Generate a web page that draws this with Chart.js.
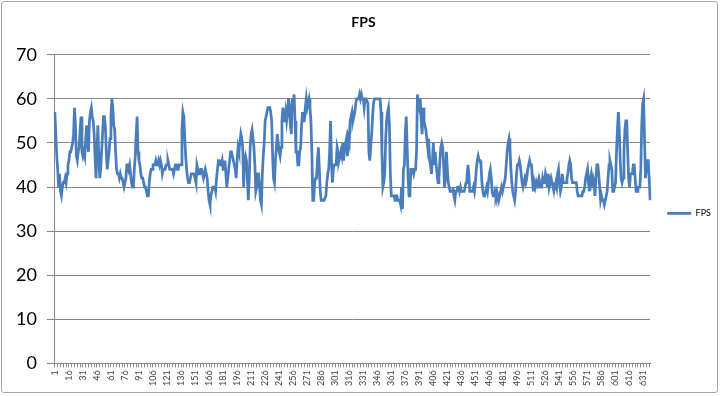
<!DOCTYPE html>
<html>
<head>
<meta charset="utf-8">
<script src="https://cdn.jsdelivr.net/npm/chart.js@4.4.0/dist/chart.umd.min.js"></script>
<style>
  html, body { margin: 0; padding: 0; background: #fff; }
  #wrap { position: relative; width: 720px; height: 396px; }
  #frame { position: absolute; left: 1px; top: 1px; width: 715px; height: 390px;
           border: 1px solid #a6a6a6; border-radius: 3px; pointer-events: none; }
</style>
</head>
<body>
<div id="wrap">
  <canvas id="fpsChart" width="720" height="396"></canvas>
  <div id="frame"></div>
</div>
<script>
// frames per second, one value per sample (1..638)
const fps = [
  57,52,47,44,40,43,39,38,40,41, 41,42,41,43,45,46,48,48,49,50,
  52,58,54,47,46,48,49,53,56,48, 47,48,47,51,54,50,48,55,57,58,
  56,55,52,47,42,48,54,47,42,44, 48,52,56,56,54,48,44,46,48,51,
  56,60,58,54,53,48,44,43,43,42, 43,42,42,41,40,40,42,45,45,44,
  45,43,41,40,40,44,47,52,56,48, 46,45,43,42,42,41,40,40,39,38,
  38,41,43,44,44,
  45,45,45,46,45,45,46,45,46,45, 43,44,44,44,45,45,46,45,44,44,
  44,44,43,44,45,45,44,44,45,45, 45,53,57,56,51,47,44,42,41,41,
  42,43,43,43,43,42,41,45,44,43, 43,44,44,43,42,43,44,43,42,39,
  37,36,38,39,40,40,40,39,42,44, 46,46,45,45,46,44,44,46,43,40,
  42,44,46,48,48,47,46,45,44,42, 46,49,48,50,52,51,49,40,46,47,
  46,42,37,42,49,52,53,
  53,49,45,39,40,43,43,40,37,36, 43,47,50,55,56,56,58,58,58,57,
  55,47,42,41,46,49,52,50,48,47, 49,55,58,55,55,57,55,57,60,58,
  54,52,60,58,61,55,48,48,45,45, 48,49,54,57,55,55,58,60,58,59,
  60,58,55,48,37,37,41,42,42,46, 49,44,39,37,37,37,37,37,38,41,
  43,44,48,55,46,41,44,45,45,45, 49,48,46,47,48,47,50,46,49,50,
  51,47,51,50,55,56,57,
  55,56,57,59,60,60,60,61,60,61, 60,60,58,60,60,60,59,48,46,49,
  52,56,59,60,60,60,60,60,60,60, 57,48,40,41,43,51,55,57,58,54,
  43,38,38,38,38,37,38,38,37,37, 37,36,40,35,44,45,52,56,49,42,
  38,39,44,44,44,43,44,44,48,61, 59,58,60,55,52,58,55,54,53,51,
  49,51,46,45,43,46,50,45,48,45, 43,41,42,46,49,50,49,45,40,42,
  48,44,41,40,39,39,
  39,40,38,37,39,39,40,40,39,40, 39,39,39,39,40,41,42,45,43,39,
  39,39,39,40,39,41,44,46,47,46, 46,45,41,39,38,38,39,40,39,41,
  43,44,42,39,38,38,39,38,39,38, 37,38,39,40,39,40,41,42,45,48,
  50,51,49,44,41,39,38,37,39,43, 45,45,46,45,43,41,40,40,42,41,
  42,44,45,46,45,45,42,39,41,40, 41,40,41,42,41,40,40,42,41,41,
  43,42,40,43,40,41,42,
  41,40,39,40,41,40,43,44,41,39, 40,43,41,41,41,41,42,43,45,46,
  45,42,41,41,41,41,41,39,38,38, 38,38,38,39,39,40,42,43,44,41,
  39,42,43,41,42,41,38,42,45,45, 43,40,37,38,37,37,36,37,38,39,
  42,45,46,45,44,39,39,40,41,48, 53,57,53,46,42,41,42,48,53,55,
  55,48,42,40,43,43,43,45,45,42, 39,39,40,40,40,44,54,59,60,51,
  42,44,46,46,42,37
];
const seriesName = 'FPS';
const labels = fps.map((v, i) => String(i + 1));
const labelEvery = 15;
const yMin = 0, yMax = 70, yStep = 10;

const font = 'Lato, "Open Sans", sans-serif';
const gridGray = '#868686';

new Chart(document.getElementById('fpsChart'), {
  type: 'line',
  data: {
    labels: labels,
    datasets: [{
      label: seriesName,
      data: fps,
      borderColor: '#4a7ebb',
      backgroundColor: '#4a7ebb',
      borderWidth: 2.75,
      pointRadius: 0,
      tension: 0
    }]
  },
  options: {
    responsive: false,
    animation: false,
    devicePixelRatio: 1,
    layout: { padding: { left: 6, right: -1, top: 0, bottom: 7 } },
    plugins: {
      title: {
        display: true,
        text: seriesName,
        color: '#000',
        font: { family: font, size: 14, weight: 'bold' },
        padding: { top: 14, bottom: 24 }
      },
      legend: {
        position: 'right',
        // empty legend title only pushes the entry down to mid-plot
        title: { display: true, text: '', padding: { top: 0, bottom: 27 }, font: { size: 9 } },
        labels: {
          usePointStyle: true,
          pointStyle: 'line',
          pointStyleWidth: 24,
          boxHeight: 9,
          padding: 17,
          color: '#000',
          font: { family: font, size: 9 }
        }
      },
      tooltip: { enabled: false }
    },
    scales: {
      x: {
        ticks: {
          autoSkip: false,
          minRotation: 90,
          maxRotation: 90,
          color: '#404040',
          font: { family: font, size: 9 },
          callback: (v, i) => (i % labelEvery === 0 ? labels[i] : '')
        },
        grid: {
          drawOnChartArea: false,
          tickLength: 4,
          color: ctx => (ctx.index % 3 === 0 ? '#8c8c8c' : 'rgba(0,0,0,0)')
        },
        border: { color: gridGray }
      },
      y: {
        min: yMin,
        max: yMax,
        ticks: {
          stepSize: yStep,
          color: '#000',
          padding: 10,
          font: { family: font, size: 18 }
        },
        grid: { color: gridGray, tickLength: 8 },
        border: { color: gridGray }
      }
    }
  }
});
</script>
</body>
</html>
